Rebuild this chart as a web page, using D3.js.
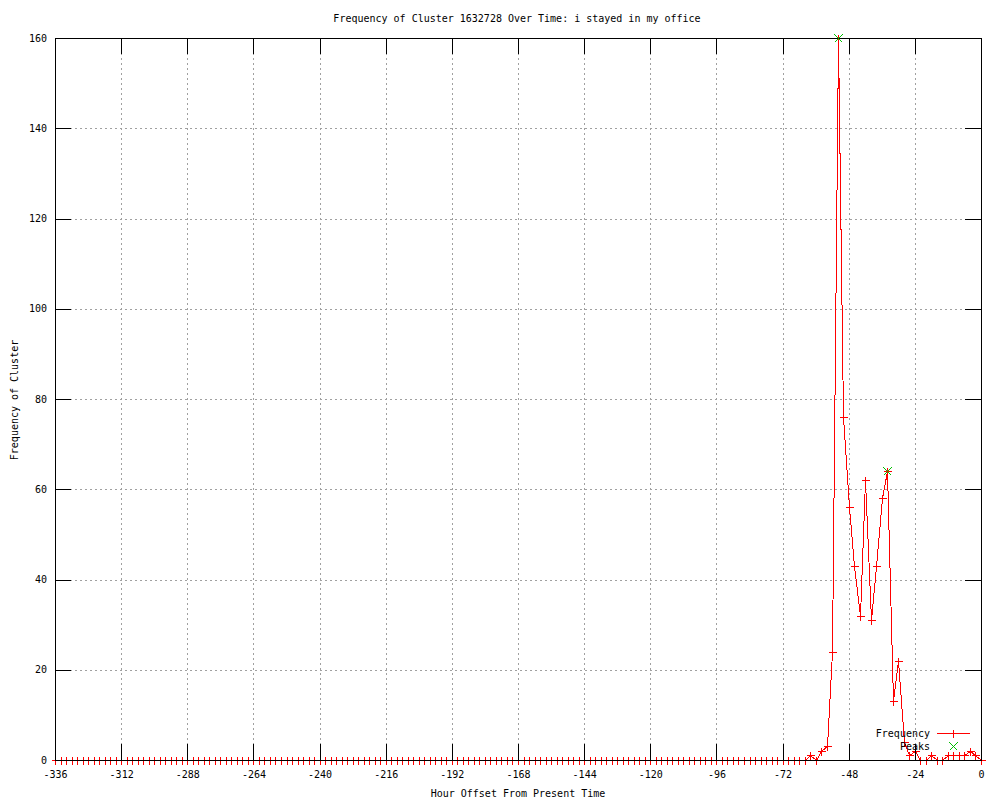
<!DOCTYPE html>
<html>
<head>
<meta charset="utf-8">
<script src="https://cdn.jsdelivr.net/npm/d3@7"></script>
<style>
  body { margin: 0; background: #fff; }
  text { font-family: 'DejaVu Sans Mono', monospace; font-size: 10px; fill: #000; }
</style>
</head>
<body>
<div id="chart"></div>
<script>
// sample times: every 2 hours from -336 to 0
var hours = d3.range( -336, 1, 2 );

// frequency per sample (-336 .. 0)
var frequency = [
    0,0,0,0,0,0,0,0,0,0,0,0,0,0,0,0,0,
    0,0,0,0,0,0,0,0,0,0,0,0,0,0,0,0,0,
    0,0,0,0,0,0,0,0,0,0,0,0,0,0,0,0,0,
    0,0,0,0,0,0,0,0,0,0,0,0,0,0,0,0,0,
    0,0,0,0,0,0,0,0,0,0,0,0,0,0,0,0,0,
    0,0,0,0,0,0,0,0,0,0,0,0,0,0,0,0,0,
    0,0,0,0,0,0,0,0,0,0,0,0,0,0,0,0,0,
    0,0,0,0,0,0,0,0,0,0,0,0,0,0,0,0,0,
    // -64 .. 0
    0,1,0,2,3,24,160,76,56,43,32,62,31,43,58,64,13,22,4,1,2,0,0,1,0,0,1,1,1,1,2,1,0
];

var peakHours   = [ -52, -34 ];
var peakValues  = [ 160, 64 ];

var xTicks = [ -336, -312, -288, -264, -240, -216, -192, -168, -144, -120, -96, -72, -48, -24, 0 ];
var yTicks = [ 0, 20, 40, 60, 80, 100, 120, 140, 160 ];

var chart_width     =   1000;
var chart_height    =   800;
var plotLeft = 55, plotRight = 981, plotTop = 38, plotBottom = 760;

var svg = d3.select( '#chart' )
    .append( 'svg' )
    .attr( 'width', chart_width )
    .attr( 'height', chart_height );

var x = d3.scaleLinear().domain( [ -336, 0 ] ).range( [ plotLeft, plotRight ] );
var y = d3.scaleLinear().domain( [ 0, 160 ] ).range( [ plotBottom, plotTop ] );

var data = hours.map( function( h, i ){ return { h: h, v: frequency[i] }; } );

// grid
var grid = svg.append( 'g' )
    .attr( 'stroke', '#a0a0a0' )
    .attr( 'stroke-dasharray', '2,3' )
    .attr( 'shape-rendering', 'crispEdges' );
grid.selectAll( '.gx' )
    .data( xTicks.slice( 1, -1 ) )
    .enter()
    .append( 'line' )
    .attr( 'x1', function( d ){ return Math.round( x(d) ) + 0.5; } )
    .attr( 'x2', function( d ){ return Math.round( x(d) ) + 0.5; } )
    .attr( 'y1', plotTop )
    .attr( 'y2', plotBottom );
grid.selectAll( '.gy' )
    .data( yTicks.slice( 1, -1 ) )
    .enter()
    .append( 'line' )
    .attr( 'y1', function( d ){ return Math.round( y(d) ) + 0.5; } )
    .attr( 'y2', function( d ){ return Math.round( y(d) ) + 0.5; } )
    .attr( 'x1', plotLeft )
    .attr( 'x2', plotRight );

// frequency line
var line = d3.line()
    .x( function( d ){ return Math.round( x( d.h ) ) + 0.5; } )
    .y( function( d ){ return Math.round( y( d.v ) ) + 0.5; } );

svg.append( 'path' )
    .datum( data )
    .attr( 'd', line )
    .attr( 'fill', 'none' )
    .attr( 'stroke', '#ff0000' )
    .attr( 'stroke-width', 1 )
    .attr( 'shape-rendering', 'crispEdges' );

// + and x marker shapes
function plus( cx, cy, s ){
    return 'M' + ( cx - s ) + ',' + cy + 'H' + ( cx + s ) + 'M' + cx + ',' + ( cy - s ) + 'V' + ( cy + s );
}
function cross( cx, cy, s ){
    return 'M' + ( cx - s ) + ',' + ( cy - s ) + 'L' + ( cx + s ) + ',' + ( cy + s ) +
           'M' + ( cx - s ) + ',' + ( cy + s ) + 'L' + ( cx + s ) + ',' + ( cy - s );
}

svg.selectAll( '.pt' )
    .data( data )
    .enter()
    .append( 'path' )
    .attr( 'd', function( d ){
        return plus( Math.round( x( d.h ) ) + 0.5, Math.round( y( d.v ) ) + 0.5, 4 );
    })
    .attr( 'fill', 'none' )
    .attr( 'stroke', '#ff0000' )
    .attr( 'shape-rendering', 'crispEdges' );

// axes with inward ticks on all four sides
var axes = svg.append( 'g' ).attr( 'shape-rendering', 'crispEdges' );

var xb = axes.append( 'g' )
    .attr( 'transform', 'translate(0,' + plotBottom + ')' )
    .call( d3.axisBottom( x ).tickValues( xTicks ).tickSize( -16 ).tickPadding( 11 ) );
var yl = axes.append( 'g' )
    .attr( 'transform', 'translate(' + plotLeft + ',0)' )
    .call( d3.axisLeft( y ).tickValues( yTicks ).tickSize( -16 ).tickPadding( 8 ) );
axes.append( 'g' )
    .attr( 'transform', 'translate(0,' + plotTop + ')' )
    .call( d3.axisTop( x ).tickValues( xTicks ).tickSize( -16 ).tickFormat( '' ) );
axes.append( 'g' )
    .attr( 'transform', 'translate(' + plotRight + ',0)' )
    .call( d3.axisRight( y ).tickValues( yTicks ).tickSize( -16 ).tickFormat( '' ) );

axes.selectAll( '.domain' ).remove();
axes.selectAll( '.tick line' ).attr( 'stroke', '#000' );
axes.selectAll( 'text' )
    .attr( 'font-family', "'DejaVu Sans Mono', monospace" )
    .attr( 'font-size', 10 )
    .attr( 'fill', '#000' );
xb.selectAll( 'text' ).text( function( d ){ return String( d ); } );

axes.append( 'rect' )
    .attr( 'x', plotLeft + 0.5 )
    .attr( 'y', plotTop + 0.5 )
    .attr( 'width', plotRight - plotLeft )
    .attr( 'height', plotBottom - plotTop )
    .attr( 'fill', 'none' )
    .attr( 'stroke', '#000' );

// peaks
svg.selectAll( '.peak' )
    .data( peakHours )
    .enter()
    .append( 'path' )
    .attr( 'd', function( d, i ){
        return cross( Math.round( x( d ) ) + 0.5, Math.round( y( peakValues[i] ) ) + 0.5, 4 );
    })
    .attr( 'fill', 'none' )
    .attr( 'stroke', '#00c000' )
    .attr( 'shape-rendering', 'crispEdges' );

// titles
svg.append( 'text' )
    .text( 'Frequency of Cluster 1632728 Over Time: i stayed in my office' )
    .attr( 'x', 517 )
    .attr( 'y', 22 )
    .attr( 'text-anchor', 'middle' );

svg.append( 'text' )
    .text( 'Hour Offset From Present Time' )
    .attr( 'x', 518 )
    .attr( 'y', 797 )
    .attr( 'text-anchor', 'middle' );

svg.append( 'text' )
    .text( 'Frequency of Cluster' )
    .attr( 'transform', 'translate(18,400) rotate(-90)' )
    .attr( 'text-anchor', 'middle' );

// legend
svg.append( 'text' )
    .text( 'Frequency' )
    .attr( 'x', 930 )
    .attr( 'y', 737 )
    .attr( 'text-anchor', 'end' );
svg.append( 'path' )
    .attr( 'd', 'M937,733.5H970' + plus( 953.5, 733.5, 4 ) )
    .attr( 'fill', 'none' )
    .attr( 'stroke', '#ff0000' )
    .attr( 'shape-rendering', 'crispEdges' );

svg.append( 'text' )
    .text( 'Peaks' )
    .attr( 'x', 930 )
    .attr( 'y', 750 )
    .attr( 'text-anchor', 'end' );
svg.append( 'path' )
    .attr( 'd', cross( 953.5, 746.5, 4 ) )
    .attr( 'fill', 'none' )
    .attr( 'stroke', '#00c000' )
    .attr( 'shape-rendering', 'crispEdges' );
</script>
</body>
</html>
